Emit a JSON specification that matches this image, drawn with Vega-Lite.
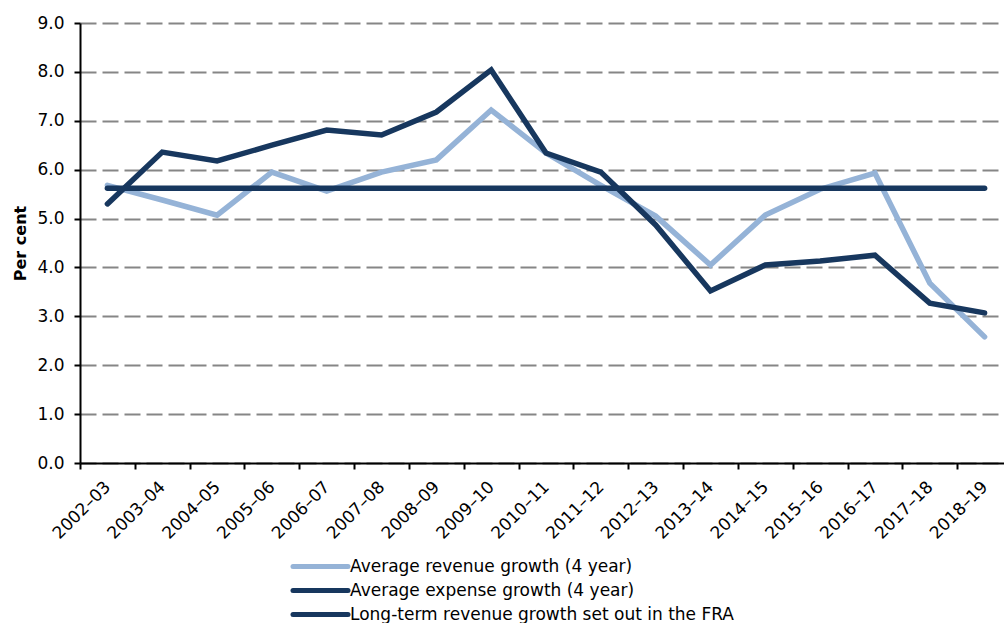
{
  "$schema": "https://vega.github.io/schema/vega-lite/v6.json",
  "width": 924,
  "height": 440,
  "autosize": {"type": "none"},
  "padding": {"left": 80, "top": 23, "right": 0, "bottom": 160},
  "background": "white",
  "config": {"view": {"stroke": null}, "font": "DejaVu Sans"},
  "data": {
    "values": [
      {"year": "2002–03", "series": "Average revenue growth (4 year)", "value": 5.68},
      {"year": "2003–04", "series": "Average revenue growth (4 year)", "value": 5.38},
      {"year": "2004–05", "series": "Average revenue growth (4 year)", "value": 5.07},
      {"year": "2005–06", "series": "Average revenue growth (4 year)", "value": 5.95},
      {"year": "2006–07", "series": "Average revenue growth (4 year)", "value": 5.56},
      {"year": "2007–08", "series": "Average revenue growth (4 year)", "value": 5.95},
      {"year": "2008–09", "series": "Average revenue growth (4 year)", "value": 6.2},
      {"year": "2009–10", "series": "Average revenue growth (4 year)", "value": 7.22},
      {"year": "2010–11", "series": "Average revenue growth (4 year)", "value": 6.34},
      {"year": "2011–12", "series": "Average revenue growth (4 year)", "value": 5.68},
      {"year": "2012–13", "series": "Average revenue growth (4 year)", "value": 5.05},
      {"year": "2013–14", "series": "Average revenue growth (4 year)", "value": 4.05},
      {"year": "2014–15", "series": "Average revenue growth (4 year)", "value": 5.07},
      {"year": "2015–16", "series": "Average revenue growth (4 year)", "value": 5.6},
      {"year": "2016–17", "series": "Average revenue growth (4 year)", "value": 5.93},
      {"year": "2017–18", "series": "Average revenue growth (4 year)", "value": 3.68},
      {"year": "2018–19", "series": "Average revenue growth (4 year)", "value": 2.58},
      {"year": "2002–03", "series": "Average expense growth (4 year)", "value": 5.3},
      {"year": "2003–04", "series": "Average expense growth (4 year)", "value": 6.36},
      {"year": "2004–05", "series": "Average expense growth (4 year)", "value": 6.18},
      {"year": "2005–06", "series": "Average expense growth (4 year)", "value": 6.5},
      {"year": "2006–07", "series": "Average expense growth (4 year)", "value": 6.81},
      {"year": "2007–08", "series": "Average expense growth (4 year)", "value": 6.71},
      {"year": "2008–09", "series": "Average expense growth (4 year)", "value": 7.18},
      {"year": "2009–10", "series": "Average expense growth (4 year)", "value": 8.04},
      {"year": "2010–11", "series": "Average expense growth (4 year)", "value": 6.34},
      {"year": "2011–12", "series": "Average expense growth (4 year)", "value": 5.95},
      {"year": "2012–13", "series": "Average expense growth (4 year)", "value": 4.87},
      {"year": "2013–14", "series": "Average expense growth (4 year)", "value": 3.52},
      {"year": "2014–15", "series": "Average expense growth (4 year)", "value": 4.05},
      {"year": "2015–16", "series": "Average expense growth (4 year)", "value": 4.13},
      {"year": "2016–17", "series": "Average expense growth (4 year)", "value": 4.25},
      {"year": "2017–18", "series": "Average expense growth (4 year)", "value": 3.27},
      {"year": "2018–19", "series": "Average expense growth (4 year)", "value": 3.07},
      {"year": "2002–03", "series": "Long-term revenue growth set out in the FRA", "value": 5.62},
      {"year": "2003–04", "series": "Long-term revenue growth set out in the FRA", "value": 5.62},
      {"year": "2004–05", "series": "Long-term revenue growth set out in the FRA", "value": 5.62},
      {"year": "2005–06", "series": "Long-term revenue growth set out in the FRA", "value": 5.62},
      {"year": "2006–07", "series": "Long-term revenue growth set out in the FRA", "value": 5.62},
      {"year": "2007–08", "series": "Long-term revenue growth set out in the FRA", "value": 5.62},
      {"year": "2008–09", "series": "Long-term revenue growth set out in the FRA", "value": 5.62},
      {"year": "2009–10", "series": "Long-term revenue growth set out in the FRA", "value": 5.62},
      {"year": "2010–11", "series": "Long-term revenue growth set out in the FRA", "value": 5.62},
      {"year": "2011–12", "series": "Long-term revenue growth set out in the FRA", "value": 5.62},
      {"year": "2012–13", "series": "Long-term revenue growth set out in the FRA", "value": 5.62},
      {"year": "2013–14", "series": "Long-term revenue growth set out in the FRA", "value": 5.62},
      {"year": "2014–15", "series": "Long-term revenue growth set out in the FRA", "value": 5.62},
      {"year": "2015–16", "series": "Long-term revenue growth set out in the FRA", "value": 5.62},
      {"year": "2016–17", "series": "Long-term revenue growth set out in the FRA", "value": 5.62},
      {"year": "2017–18", "series": "Long-term revenue growth set out in the FRA", "value": 5.62},
      {"year": "2018–19", "series": "Long-term revenue growth set out in the FRA", "value": 5.62}
    ]
  },
  "mark": {"type": "line", "strokeWidth": 5.5, "strokeCap": "round", "strokeJoin": "miter"},
  "encoding": {
    "x": {
      "field": "year",
      "type": "ordinal",
      "sort": null,
      "scale": {"type": "band", "range": [0, 932], "paddingInner": 0, "paddingOuter": 0},
      "axis": {
        "title": null,
        "labelAngle": -45,
        "labelAlign": "right",
        "labelBaseline": "middle",
        "tickBand": "extent",
        "grid": false,
        "domainColor": "black",
        "domainWidth": 2,
        "tickColor": "black",
        "tickWidth": 2,
        "tickSize": 6,
        "labelFontSize": 17,
        "labelColor": "black",
        "labelPadding": 15
      }
    },
    "y": {
      "field": "value",
      "type": "quantitative",
      "scale": {"domain": [0, 9], "nice": false},
      "axis": {
        "title": "Per cent",
        "titleFontSize": 16,
        "titleFontWeight": "bold",
        "titleColor": "black",
        "titlePadding": 8,
        "values": [0, 1, 2, 3, 4, 5, 6, 7, 8, 9],
        "format": ".1f",
        "gridDash": [16, 6],
        "gridColor": "#868686",
        "gridWidth": 2,
        "domainColor": "black",
        "domainWidth": 2,
        "tickColor": "black",
        "tickWidth": 2,
        "tickSize": 6,
        "labelFontSize": 17,
        "labelColor": "black",
        "labelPadding": 10
      }
    },
    "color": {
      "field": "series",
      "type": "nominal",
      "sort": null,
      "scale": {
        "domain": ["Average revenue growth (4 year)", "Average expense growth (4 year)", "Long-term revenue growth set out in the FRA"],
        "range": ["#95B3D7", "#17375E", "#17375E"]
      },
      "legend": {
        "orient": "none",
        "legendX": 210,
        "legendY": 535,
        "title": null,
        "padding": 0,
        "symbolType": "M-1,0H9",
        "symbolSize": 121,
        "symbolStrokeWidth": 5,
        "labelFontSize": 17,
        "labelColor": "black",
        "labelLimit": 0,
        "labelOffset": 43,
        "rowPadding": 3,
        "encode": {"symbols": {"update": {"strokeCap": {"value": "round"}}}}
      }
    }
  }
}
